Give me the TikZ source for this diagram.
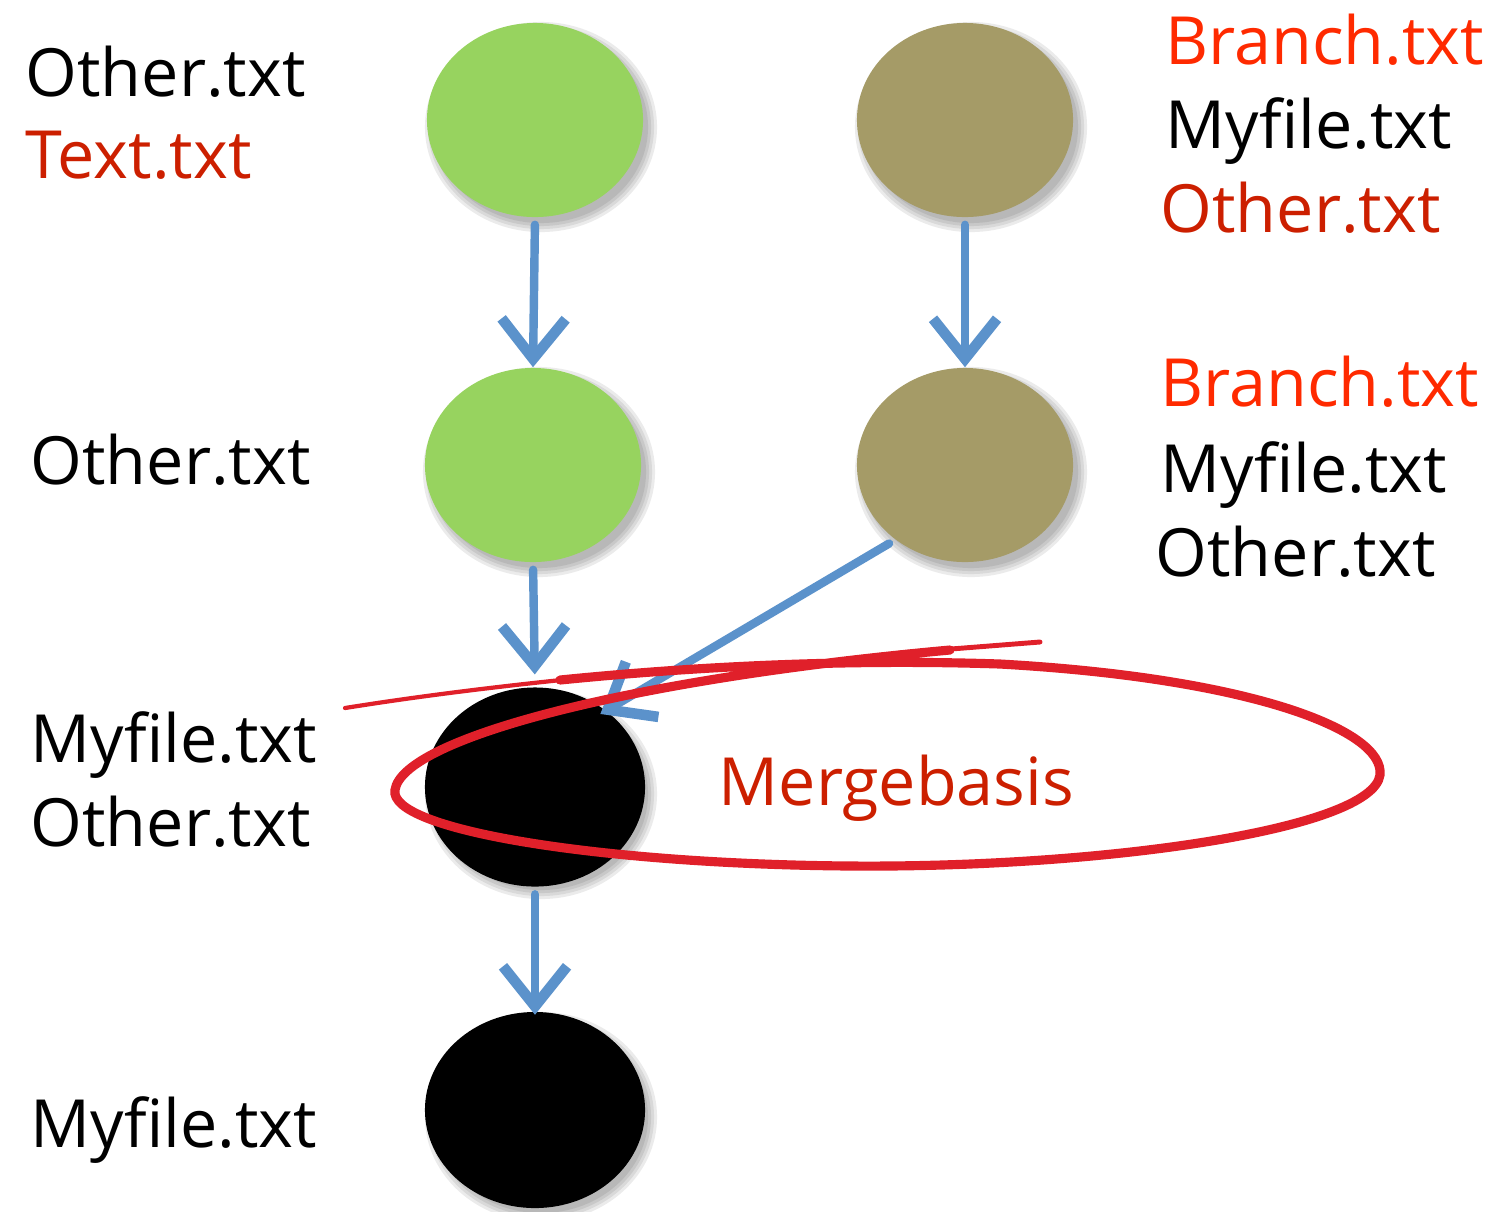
\documentclass[tikz,border=0pt]{standalone}
\usepackage{fontspec}
\setmainfont{Open Sans}
\usetikzlibrary{shapes.geometric,arrows.meta}
\definecolor{cgreen}{HTML}{97D35F}
\definecolor{ctan}{HTML}{A59B67}
\definecolor{cblue}{HTML}{5B92CB}
\definecolor{cred}{HTML}{E0202A}
\definecolor{tbright}{HTML}{FF2A00}
\definecolor{tdark}{HTML}{CC1F00}
\begin{document}
\begin{tikzpicture}[x=0.01cm,y=-0.01cm,
  commit/.style={ellipse,inner sep=0pt,minimum width=2.16cm,minimum height=1.94cm},
  lbl/.style={anchor=base west,inner sep=0pt,font=\fontsize{18.9}{23}\selectfont},
  flow/.style={draw=cblue,line width=2.4pt,line cap=round,
    -{Straight Barb[length=0.40cm,width=0.64cm,line width=3pt]}},
  loop/.style={draw=cred,line cap=round}]
\useasboundingbox (0,0) rectangle (1500,1211);
% shadows
\foreach \cx/\cy in {535/120,965/120,533/465,965/465,535/787,535/1110}{
  \foreach \s in {0,3,6,9}{
    \fill[black,opacity=0.08] (\cx+6,\cy+7) ellipse[x radius=1.07cm+\s*0.01cm, y radius=0.96cm+\s*0.01cm];
  }
}
\node[commit,fill=cgreen] (g1) at (535,120) {};
\node[commit,fill=ctan] (t1) at (965,120) {};
\node[commit,fill=cgreen] (g2) at (533,465) {};
\node[commit,fill=ctan] (t2) at (965,465) {};
\node[commit,fill=black,minimum width=2.2cm,minimum height=1.99cm] (b1) at (535,787) {};
\node[commit,fill=black,minimum width=2.2cm,minimum height=1.96cm] (b2) at (535,1110) {};
% arrows
\draw[flow,shorten <=2pt,shorten >=0pt] (g1.south) -- (g2.north);
\draw[flow,shorten <=2pt,shorten >=0pt] (t1.south) -- (t2.north);
\draw[flow,shorten <=2pt,shorten >=3.5pt] (g2.south) -- (b1.north);
\draw[flow,shorten <=2pt,shorten >=-1pt] (b1.south) -- (b2.north);
\draw[flow,shorten <=2pt,shorten >=-2pt] (t2.227) -- (b1.47);
% red loop
\draw[loop,line width=1.2pt] (345,708) .. controls (420,696) and (500,686) .. (600,676);
\draw[loop,line width=2.6pt] (560,680) .. controls (700,666) and (850,659) .. (1000,664)
  .. controls (1250,678) and (1385,730) .. (1380,775)
  .. controls (1372,830) and (1100,868) .. (850,866)
  .. controls (600,864) and (388,830) .. (395,790)
  .. controls (402,740) and (620,680) .. (950,650);
\draw[loop,line width=1.4pt] (900,653) -- (1040,642);
% labels
\node[lbl] (l1) at (25,96) {Other.txt};
\node[lbl,text=tdark] (l2) at (25,178) {Text.txt};
\node[lbl] (l3) at (30,484) {Other.txt};
\node[lbl] (l4) at (30,762) {Myfile.txt};
\node[lbl] (l5) at (30,846) {Other.txt};
\node[lbl] (l6) at (30,1147) {Myfile.txt};
\node[lbl,text=tbright] (r1) at (1165,64) {Branch.txt};
\node[lbl] (r2) at (1165,148) {Myfile.txt};
\node[lbl,text=tdark] (r3) at (1160,232) {Other.txt};
\node[lbl,text=tbright] (r4) at (1160,406) {Branch.txt};
\node[lbl] (r5) at (1160,492) {Myfile.txt};
\node[lbl] (r6) at (1155,576) {Other.txt};
\node[lbl,text=tdark] (m) at (718,805) {Mergebasis};
\end{tikzpicture}
\end{document}
